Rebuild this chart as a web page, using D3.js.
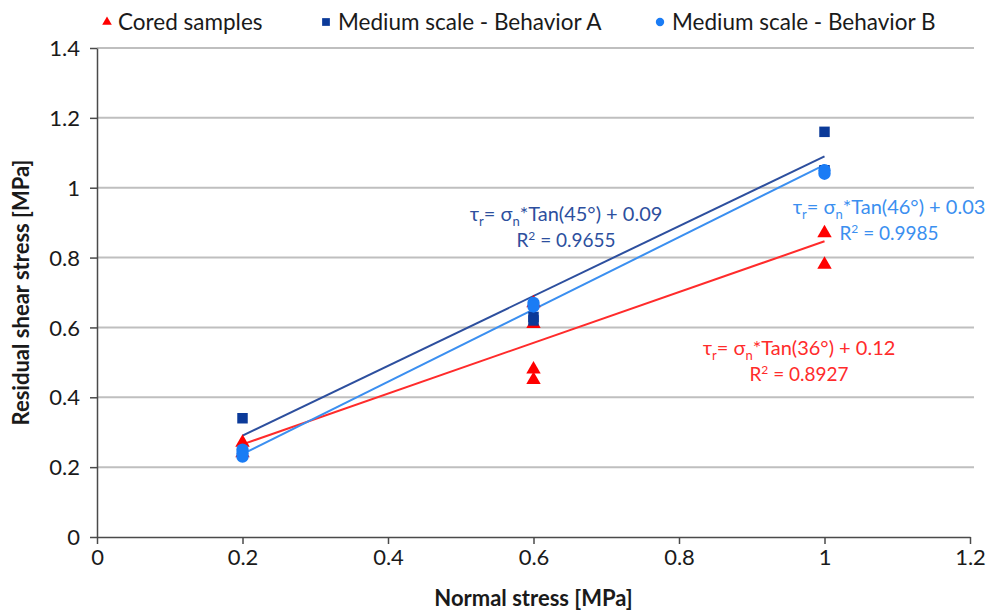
<!DOCTYPE html>
<html>
<head>
<meta charset="utf-8">
<script src="https://cdn.jsdelivr.net/npm/d3@7"></script>
<style>
  html, body { margin: 0; padding: 0; background: #ffffff; }
  svg { display: block; font-family: Lato, "Open Sans", "Noto Sans", sans-serif; }
</style>
</head>
<body>
<svg id="chart" width="1002" height="610"></svg>
<script>
// Series names, colours and point data (normal stress, residual shear stress)
const seriesNames = ["Cored samples", "Medium scale - Behavior A", "Medium scale - Behavior B"];
const seriesShapes = ["triangle", "square", "circle"];
const markerColors = ["#ff0000", "#0b3a99", "#1a7cf5"];
const lineColors = ["#ff2b2b", "#2d4f9e", "#3b8ff0"];

const coredX = [0.2, 0.2, 0.6, 0.6, 0.6, 0.6, 1.0, 1.0];
const coredY = [0.27, 0.24, 0.67, 0.61, 0.48, 0.45, 0.87, 0.78];

const behaviorAX = [0.2, 0.6, 0.6, 1.0, 1.0];
const behaviorAY = [0.34, 0.63, 0.62, 1.16, 1.05];

const behaviorBX = [0.2, 0.2, 0.2, 0.6, 0.6, 1.0, 1.0];
const behaviorBY = [0.25, 0.24, 0.23, 0.67, 0.66, 1.05, 1.04];

// Linear fits: tau_r = sigma_n * tan(angle) + cohesion
const fitAngleDeg = [36, 45, 46];
const fitIntercept = [0.12, 0.09, 0.03];
const fitR2 = ["0.8927", "0.9655", "0.9985"];
const fitRange = [0.2, 1.0];

// Axis ticks
const xTicks = [0, 0.2, 0.4, 0.6, 0.8, 1, 1.2];
const yTicks = [0, 0.2, 0.4, 0.6, 0.8, 1, 1.2, 1.4];

const svg = d3.select("#chart");
const plot = { left: 97, right: 970, top: 48, bottom: 537 };

const x = d3.scaleLinear().domain([0, 1.2]).range([plot.left, plot.right]);
const y = d3.scaleLinear().domain([0, 1.4]).range([plot.bottom, plot.top]);

// Horizontal gridlines
svg.append("g")
  .selectAll("line")
  .data(yTicks.filter(d => d > 0))
  .join("line")
  .attr("x1", plot.left).attr("x2", plot.right + 4)
  .attr("y1", d => y(d)).attr("y2", d => y(d))
  .attr("stroke", "#bfbfbf").attr("stroke-width", 2);

// Axes
const fmt = d => String(+d.toFixed(1));
const xAxis = svg.append("g")
  .attr("transform", `translate(0,${plot.bottom})`)
  .call(d3.axisBottom(x).tickValues(xTicks).tickFormat(fmt).tickSize(7).tickSizeOuter(0).tickPadding(5));
const yAxis = svg.append("g")
  .attr("transform", `translate(${plot.left},0)`)
  .call(d3.axisLeft(y).tickValues(yTicks).tickFormat(fmt).tickSize(7).tickSizeOuter(0).tickPadding(10));

[xAxis, yAxis].forEach(g => {
  g.select(".domain").attr("stroke", "#4a4a4a").attr("stroke-width", 1.5);
  g.selectAll(".tick line").attr("stroke", "#4a4a4a").attr("stroke-width", 1.5);
  g.selectAll(".tick text")
    .attr("fill", "#1a1a1a")
    .style("font-size", "22px")
    .style("font-family", "Lato, 'Open Sans', sans-serif");
});
yAxis.selectAll(".tick text").attr("dy", "0.35em");

// Axis titles
svg.append("text")
  .attr("x", (plot.left + plot.right) / 2).attr("y", 606)
  .attr("text-anchor", "middle")
  .attr("font-size", 22).attr("font-weight", "bold").attr("fill", "#1a1a1a")
  .text("Normal stress [MPa]");
svg.append("text")
  .attr("transform", `translate(29,${(plot.top + plot.bottom) / 2}) rotate(-90)`)
  .attr("text-anchor", "middle")
  .attr("font-size", 22).attr("font-weight", "bold").attr("fill", "#1a1a1a")
  .text("Residual shear stress [MPa]");

// Trend lines from the fitted equations
const fitLine = d3.line().x(d => x(d[0])).y(d => y(d[1]));
[0, 1, 2].forEach(i => {
  const slope = Math.tan(fitAngleDeg[i] * Math.PI / 180);
  const pts = fitRange.map(s => [s, slope * s + fitIntercept[i]]);
  svg.append("path")
    .attr("d", fitLine(pts))
    .attr("fill", "none")
    .attr("stroke", lineColors[i])
    .attr("stroke-width", 2);
});

// Marker symbols
const symbolFor = {
  triangle: d3.symbol().type(d3.symbolTriangle).size(90),
  square: d3.symbol().type(d3.symbolSquare).size(110),
  circle: d3.symbol().type(d3.symbolCircle).size(120)
};

const seriesX = [coredX, behaviorAX, behaviorBX];
const seriesY = [coredY, behaviorAY, behaviorBY];
[0, 1, 2].forEach(i => {
  const pts = seriesX[i].map((v, k) => [v, seriesY[i][k]]);
  svg.append("g")
    .selectAll("path")
    .data(pts)
    .join("path")
    .attr("transform", d => `translate(${x(d[0])},${y(d[1])})`)
    .attr("d", symbolFor[seriesShapes[i]]())
    .attr("fill", markerColors[i]);
});

// Equation labels
function equationLabel(i, cx, cy) {
  const g = svg.append("g").attr("fill", lineColors[i]);
  const t = g.append("text").attr("x", cx).attr("y", cy).attr("text-anchor", "middle").attr("font-size", 20);
  t.append("tspan").text("τ");
  t.append("tspan").attr("font-size", 13).attr("dy", 5).text("r");
  t.append("tspan").attr("dy", -5).text("= σ");
  t.append("tspan").attr("font-size", 13).attr("dy", 5).text("n");
  t.append("tspan").attr("dy", -5).text(`*Tan(${fitAngleDeg[i]}°) + ${fitIntercept[i].toFixed(2)}`);
  const r = g.append("text").attr("x", cx).attr("y", cy + 26).attr("text-anchor", "middle").attr("font-size", 19);
  r.append("tspan").text("R");
  r.append("tspan").attr("font-size", 12).attr("dy", -7).text("2");
  r.append("tspan").attr("dy", 7).text(` = ${fitR2[i]}`);
}
equationLabel(1, 566, 221);
equationLabel(2, 889, 214);
equationLabel(0, 799, 355);

// Legend
const legendItems = [
  { x: 107, tx: 118 },
  { x: 326, tx: 338 },
  { x: 660, tx: 672 }
];
const legendY = 22;
legendItems.forEach((it, i) => {
  const sym = d3.symbol().type([d3.symbolTriangle, d3.symbolSquare, d3.symbolCircle][i]).size([40, 60, 55][i]);
  svg.append("path")
    .attr("transform", `translate(${it.x},${legendY})`)
    .attr("d", sym())
    .attr("fill", markerColors[i]);
  svg.append("text")
    .attr("x", it.tx).attr("y", legendY)
    .attr("dy", "0.35em")
    .attr("font-size", 22.5).attr("fill", "#1a1a1a")
    .text(seriesNames[i]);
});
</script>
</body>
</html>
